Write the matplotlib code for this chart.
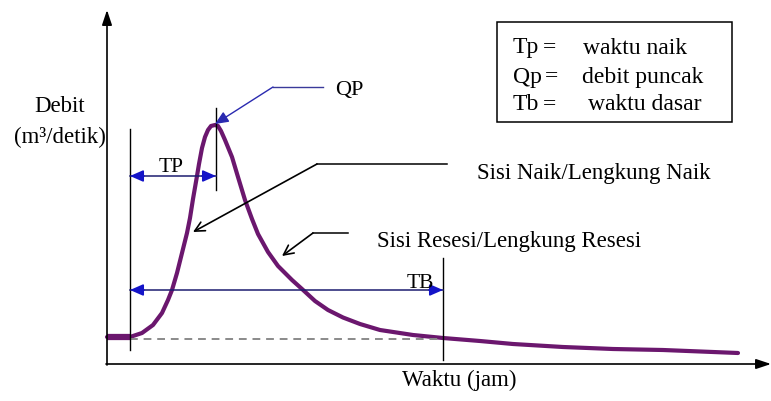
import numpy as np
import matplotlib.pyplot as plt

plt.rcParams['font.family'] = ['Liberation Serif', 'DejaVu Serif']

# hydrograph (time, discharge) in drawing units
waktu = [0, 23, 35, 46, 55, 61, 65, 70, 75, 80, 83, 86, 90, 92, 95, 98, 101, 104, 108,
         111, 114, 118, 125, 131, 138, 145, 151, 161, 171, 185, 195, 208, 221, 236, 253,
         273, 306, 336, 373, 406, 456, 506, 556, 606, 631]
debit = [27, 27, 31, 39, 51, 64, 74, 91, 111, 131, 146, 165, 188, 200, 216, 227, 234, 238, 239,
         238, 233, 224, 207, 187, 164, 145, 130, 112, 98, 84, 75, 63, 54, 46.5, 40,
         34, 29, 26, 23, 20, 17, 15, 14, 12, 11]
baseflow = 25

# markers on the time axis
t_start = 23
t_peak = 109
t_base = 336
q_peak = 239

legend_left = ['Tp', 'Qp', 'Tb']
legend_right = ['waktu naik', 'debit puncak', 'waktu dasar']

purple = '#6b176e'
navy = '#1c1c70'
blue = '#1414c8'

fig = plt.figure(figsize=(7.71, 4.01), dpi=100)
ax = fig.add_axes([0, 0, 1, 1])
ax.set_xlim(-107, 664)
ax.set_ylim(-37, 364)
ax.axis('off')

# axes with arrow heads
ax.annotate('', xy=(0, 354), xytext=(0, -1),
            arrowprops=dict(arrowstyle='-|>,head_length=0.9,head_width=0.3', color='black', lw=1.2,
                            shrinkA=0, shrinkB=0))
ax.annotate('', xy=(664, 0), xytext=(-1, 0),
            arrowprops=dict(arrowstyle='-|>,head_length=0.9,head_width=0.3', color='black', lw=1.2,
                            shrinkA=0, shrinkB=0))

# hydrograph
ax.plot(waktu[:2], debit[:2], color=purple, lw=4.5, solid_capstyle='butt')
ax.plot(waktu, debit, color=purple, lw=3, solid_capstyle='round', solid_joinstyle='round')
ax.plot([t_start, t_base], [baseflow, baseflow], color='#8a8a8a', lw=1.4, ls=(0, (4, 3)))

# vertical markers
ax.plot([t_start, t_start], [14, 235], color='black', lw=1)
ax.plot([t_peak, t_peak], [174, 256], color='black', lw=1)
ax.plot([t_base, t_base], [4, 106], color='black', lw=1)


def span_arrow(x0, x1, y):
    ax.plot([x0, x1], [y, y], color=navy, lw=1.1)
    head = dict(arrowstyle='-|>,head_length=0.8,head_width=0.35', color=blue, lw=1.2,
                shrinkA=0, shrinkB=0)
    ax.annotate('', xy=(x0, y), xytext=(x0 + 14, y), arrowprops=head)
    ax.annotate('', xy=(x1, y), xytext=(x1 - 14, y), arrowprops=head)


span_arrow(t_start, t_peak, 188)
span_arrow(t_start, t_base, 74)
ax.text(64, 197, 'TP', fontsize=15.5, ha='center', va='center')
ax.text(313, 80, 'TB', fontsize=15.5, ha='center', va='center')

# QP pointer
ax.plot([216, 166], [277, 277], color='#3a3a9a', lw=1)
ax.annotate('', xy=(t_peak - 1, q_peak + 1), xytext=(166, 277),
            arrowprops=dict(arrowstyle='-|>,head_length=0.8,head_width=0.35', color='#2a2ab0', lw=1,
                            shrinkA=0, shrinkB=0))
ax.text(228, 273, 'QP', fontsize=16, ha='left', va='center')

# rising / recession limb pointers
ax.plot([340, 210], [200, 200], color='black', lw=1.1)
ax.annotate('', xy=(86, 132), xytext=(210, 200),
            arrowprops=dict(arrowstyle='->,head_length=0.7,head_width=0.35', color='black', lw=1.2,
                            shrinkA=0, shrinkB=0))
ax.text(370, 191, 'Sisi Naik/Lengkung Naik', fontsize=16.5, ha='left', va='center')

ax.plot([241, 206], [131, 131], color='black', lw=1.1)
ax.annotate('', xy=(175, 108), xytext=(206, 131),
            arrowprops=dict(arrowstyle='->,head_length=0.7,head_width=0.35', color='black', lw=1.2,
                            shrinkA=0, shrinkB=0))
ax.text(270, 122, 'Sisi Resesi/Lengkung Resesi', fontsize=16.5, ha='left', va='center')

# legend box
ax.add_patch(plt.Rectangle((390, 242), 235, 100, fill=False, ec='black', lw=1.1))
rows = [316, 287, 259]
eq_x = [442, 444, 442]
val_x = [476, 475, 481]
for i in range(3):
    ax.text(406, rows[i], legend_left[i], fontsize=17, ha='left', va='center')
    ax.text(eq_x[i], rows[i], '=', fontsize=17, ha='center', va='center')
    ax.text(val_x[i], rows[i], legend_right[i], fontsize=17, ha='left', va='center')

# axis labels
ax.text(-47, 258, 'Debit', fontsize=16.5, ha='center', va='center')
ax.text(-47, 227, '(m³/detik)', fontsize=16.5, ha='center', va='center')
ax.text(352, -16, 'Waktu (jam)', fontsize=16.5, ha='center', va='center')

fig.savefig('out.png', dpi=100)
